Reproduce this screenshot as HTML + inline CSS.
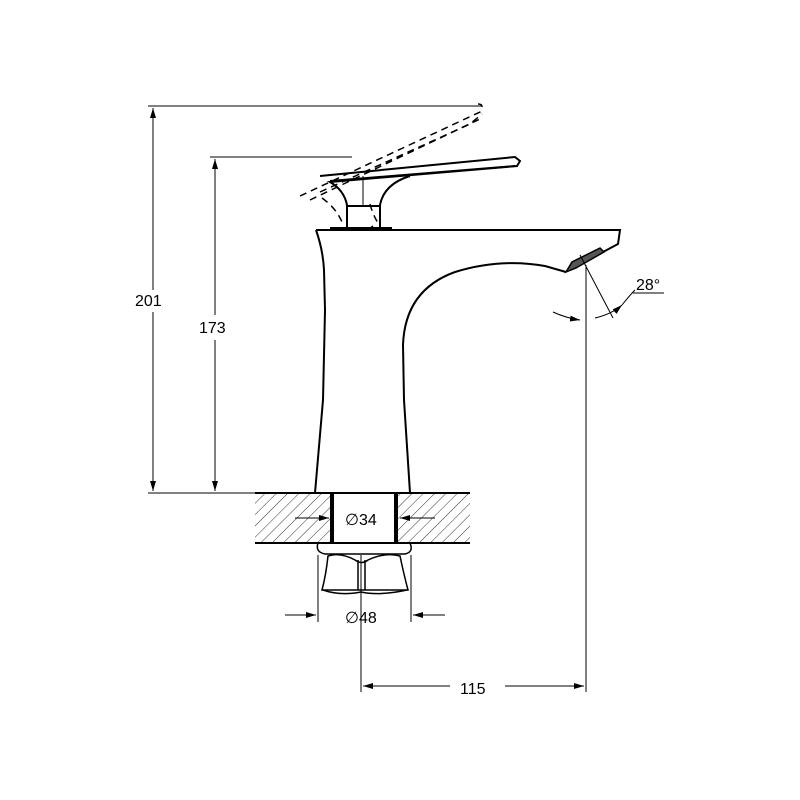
<!DOCTYPE html>
<html><head><meta charset="utf-8"><style>html,body{margin:0;padding:0;background:#fff}svg{display:block}</style></head>
<body>
<svg width="800" height="800" viewBox="0 0 800 800" xmlns="http://www.w3.org/2000/svg" font-family="Liberation Sans, sans-serif">
<defs>
<pattern id="h" width="8" height="8" patternUnits="userSpaceOnUse" patternTransform="rotate(45)">
<line x1="0" y1="0" x2="0" y2="8" stroke="#000" stroke-width="0.8"/></pattern>
<marker id="a" viewBox="0 0 10 6" refX="10" refY="3" markerWidth="10" markerHeight="6" orient="auto" markerUnits="userSpaceOnUse"><path d="M0,0 L10,3 L0,6z" fill="#000"/></marker>
</defs>
<g stroke="#000" fill="none" stroke-width="1">
<line x1="148" y1="106" x2="482" y2="106"/>
<line x1="210" y1="157" x2="352" y2="157"/>
<line x1="148" y1="493" x2="330" y2="493"/>
<line x1="153" y1="290" x2="153" y2="108" marker-end="url(#a)"/>
<line x1="153" y1="312" x2="153" y2="491" marker-end="url(#a)"/>
<line x1="215" y1="315" x2="215" y2="159" marker-end="url(#a)"/>
<line x1="215" y1="340" x2="215" y2="491" marker-end="url(#a)"/>
<g stroke-width="2">
<path d="M316,230 L620,230 L618,244 L603,252"/>
<path d="M316,230 Q323,250 324,270 L325,310 L323,400 L315,493"/>
<path d="M410,493 L404,400 L403,345 Q405,290 455,272 Q500,258 545,266 L566,272"/>
<path d="M566,272 L572,262 L600,248 L604,252 L576,268z" fill="#555" stroke-width="1.5"/>
<line x1="330" y1="229" x2="392" y2="229" stroke-width="4"/>
<path d="M320,176 L515,157 L520,161 L517,166 L330,182 Q344,190 347,205 L347,228"/>
<path d="M380,228 L380,205 Q384,184 410,176"/>
<path d="M330,181 L515,166"/>
<path d="M347,206 L380,206"/>
</g>
<line x1="363" y1="176" x2="363" y2="206"/>
<g stroke-dasharray="7,5" stroke-width="1.5">
<path d="M300,196 L480,112 Q485,104 478,104"/>
<path d="M310,200 L482,118"/>
<path d="M320,192 L470,124 L482,114"/>
<path d="M322,198 Q336,208 342,222"/>
<path d="M370,204 Q373,216 380,226"/>
<path d="M373,226 L365,232"/>
</g>
<rect x="255" y="493" width="75" height="50" fill="url(#h)" stroke="none"/>
<rect x="398" y="493" width="72" height="50" fill="url(#h)" stroke="none"/>
<line x1="255" y1="493" x2="470" y2="493" stroke-width="2"/>
<line x1="255" y1="543" x2="470" y2="543" stroke-width="2"/>
<line x1="332" y1="493" x2="332" y2="543" stroke-width="4"/>
<line x1="396" y1="493" x2="396" y2="543" stroke-width="4"/>
<line x1="295" y1="518" x2="329" y2="518" marker-end="url(#a)"/>
<line x1="435" y1="518" x2="400" y2="518" marker-end="url(#a)"/>
<g stroke-width="1.5">
<path d="M318,543 Q315,552 325,554 L405,554 Q414,552 410,543"/>
<path d="M328,556 Q340,552 355,560 Q362,565 368,560 Q385,552 400,556 Q404,575 408,590 L322,590 Q326,575 328,556z"/>
<path d="M323,590 Q340,596 361,592 Q380,596 407,590"/>
<path d="M358,560 L358,590 M365,560 L365,590"/>
</g>
<line x1="361" y1="555" x2="361" y2="692"/>
<line x1="318" y1="555" x2="318" y2="622"/>
<line x1="411" y1="555" x2="411" y2="622"/>
<line x1="285" y1="615" x2="316" y2="615" marker-end="url(#a)"/>
<line x1="445" y1="615" x2="413" y2="615" marker-end="url(#a)"/>
<line x1="586" y1="265" x2="586" y2="692"/>
<line x1="450" y1="686" x2="363" y2="686" marker-end="url(#a)"/>
<line x1="505" y1="686" x2="584" y2="686" marker-end="url(#a)"/>
<line x1="580" y1="255" x2="613" y2="318"/>
<path d="M553,312 Q566,318 580,320" marker-end="url(#a)"/>
<path d="M595,318 Q612,314 622,305" marker-end="url(#a)"/>
<path d="M622,305 Q630,295 635,290"/>
<line x1="633" y1="293" x2="664" y2="293"/>
</g>
<g font-size="16" fill="#000">
<text x="135" y="306">201</text>
<text x="199" y="333">173</text>
<text x="345" y="525">∅34</text>
<text x="345" y="623">∅48</text>
<text x="460" y="694">115</text>
<text x="636" y="290">28°</text>
</g>
</svg>
</body></html>
